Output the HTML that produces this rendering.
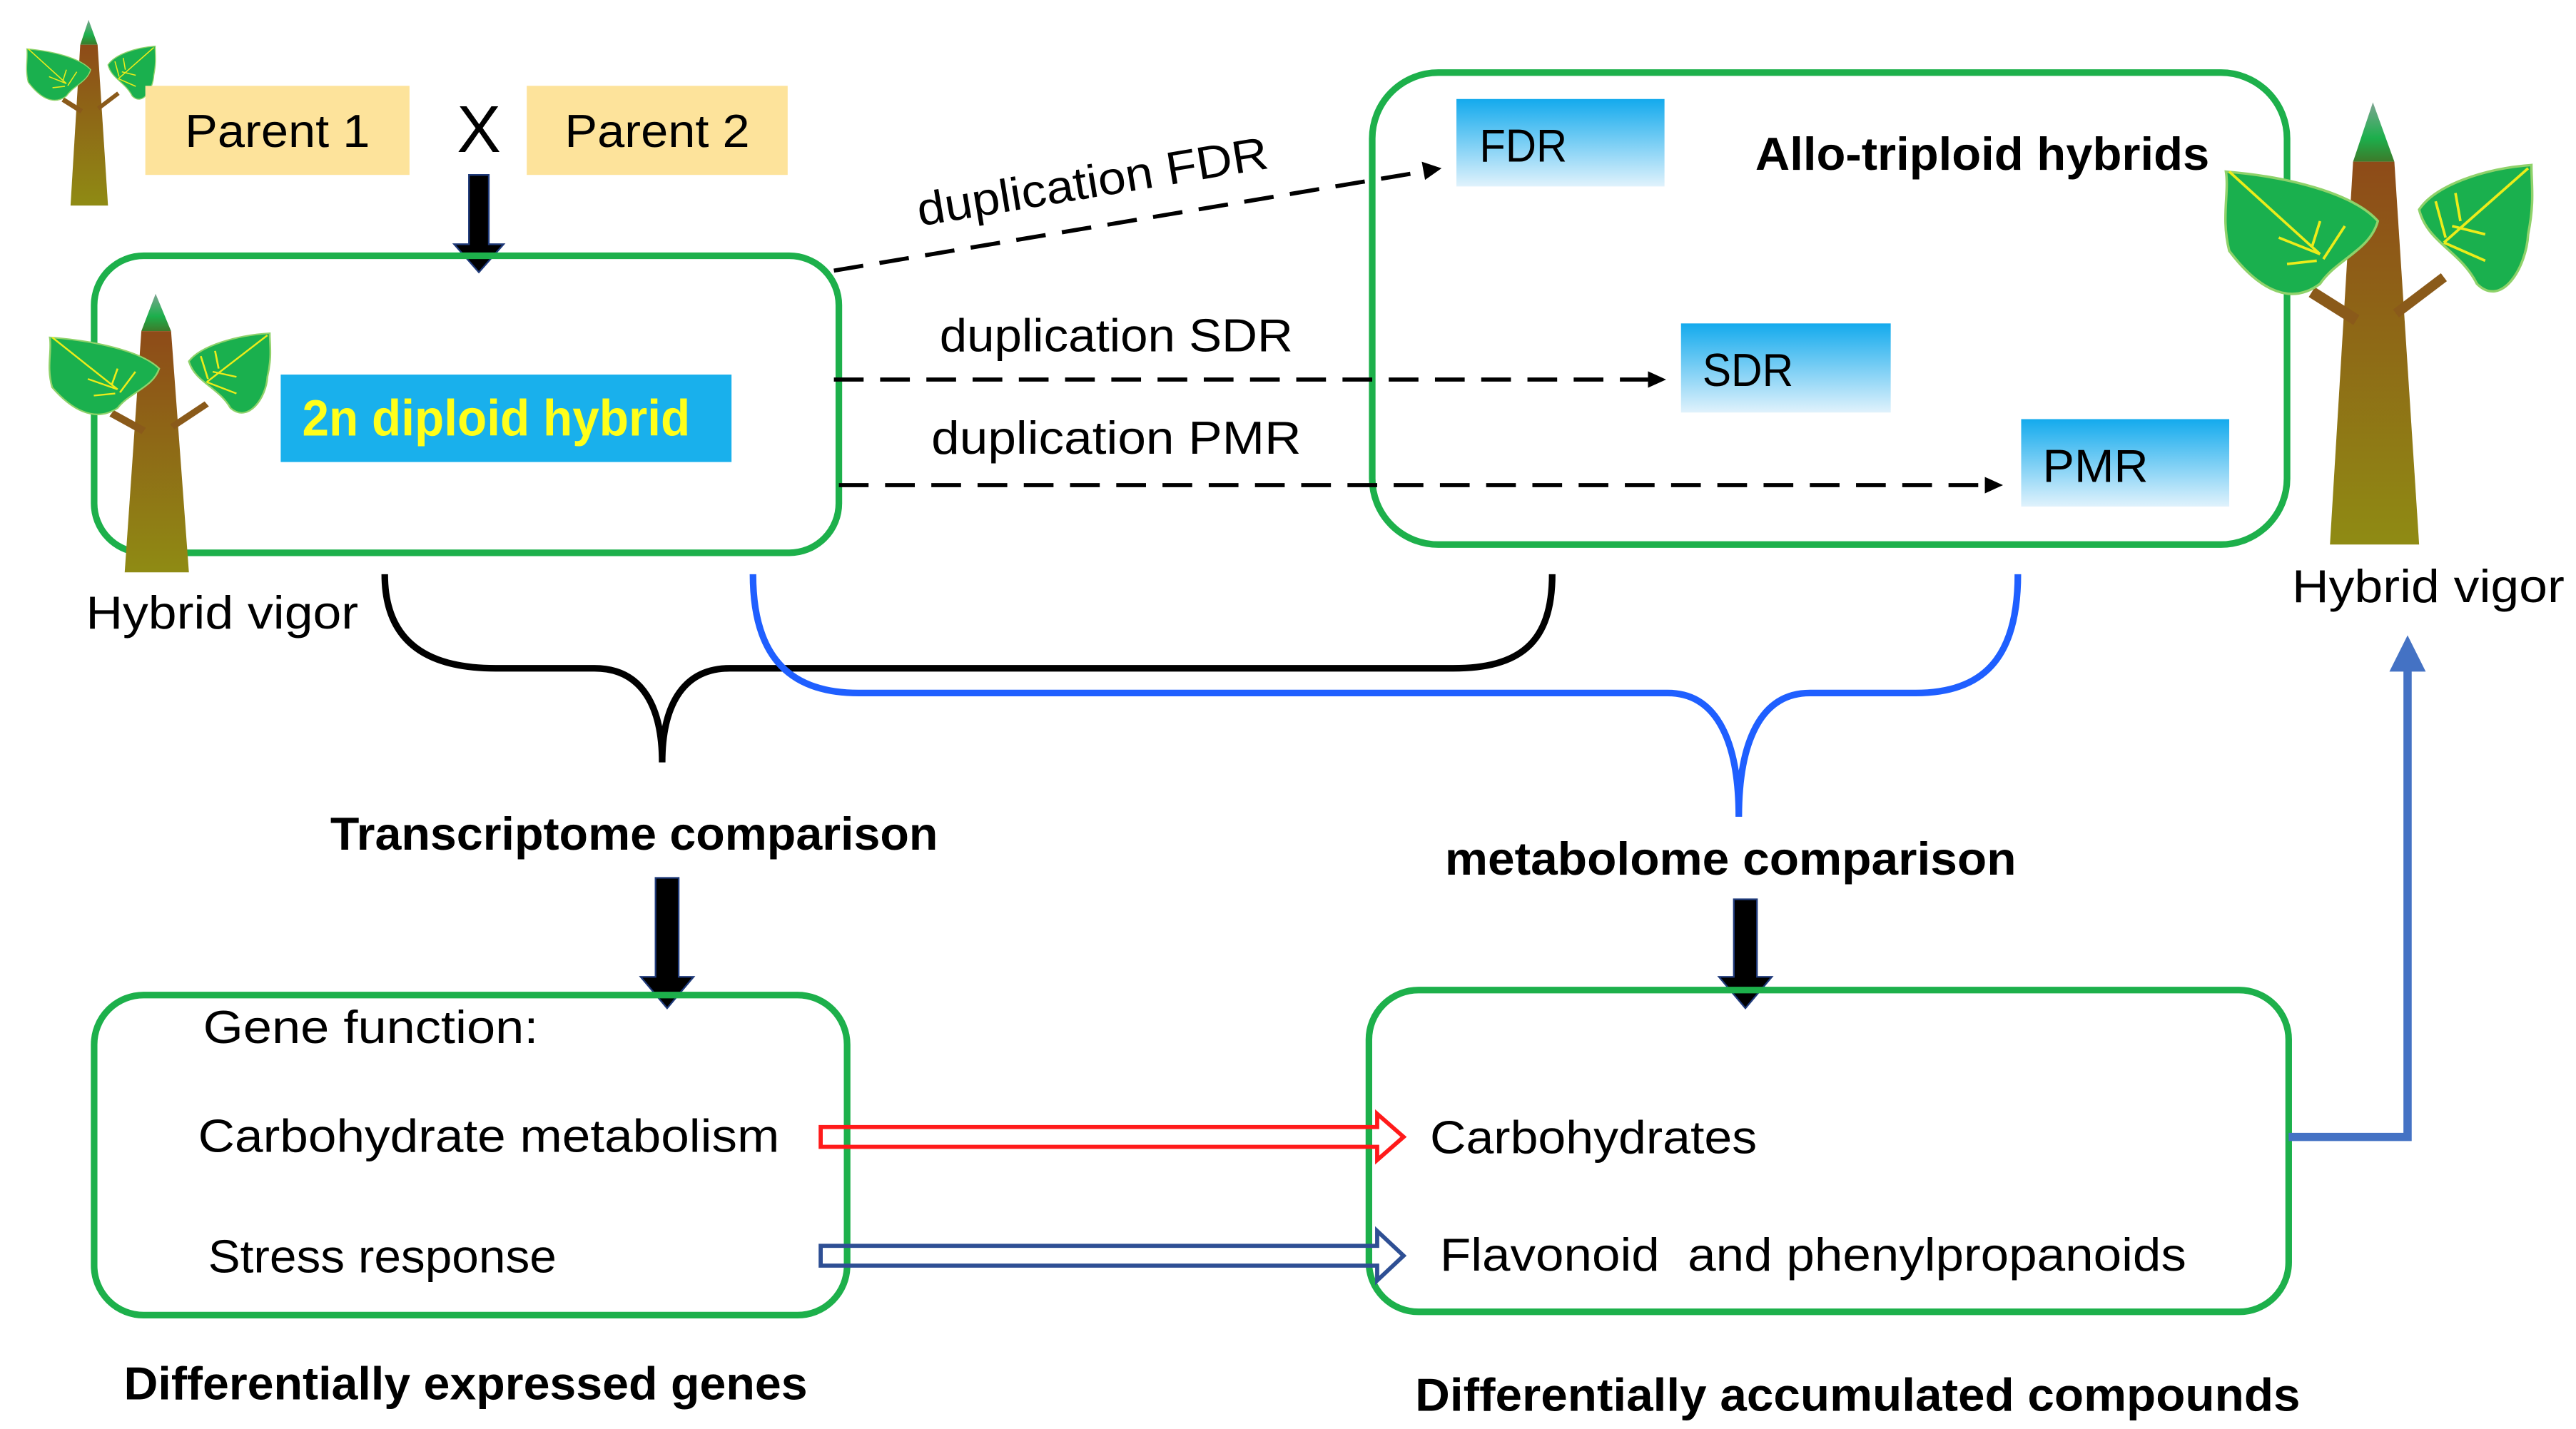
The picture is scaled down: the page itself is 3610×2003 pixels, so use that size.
<!DOCTYPE html>
<html><head><meta charset="utf-8"><style>html,body{margin:0;padding:0;background:#fff}svg{display:block}</style></head>
<body>
<svg width="3610" height="2003" viewBox="0 0 1560 866" preserveAspectRatio="none" xmlns="http://www.w3.org/2000/svg" font-family="'Liberation Sans', sans-serif">
<defs>
<linearGradient id="trunk" x1="0" y1="0" x2="0" y2="1"><stop offset="0" stop-color="#8e4b18"/><stop offset="1" stop-color="#8f8b14"/></linearGradient>
<linearGradient id="tip" x1="0" y1="0" x2="0" y2="1"><stop offset="0" stop-color="#7ea592"/><stop offset="0.6" stop-color="#1caf4c"/><stop offset="1" stop-color="#3d7a2a"/></linearGradient>
<linearGradient id="bl" x1="0" y1="0" x2="0" y2="1"><stop offset="0" stop-color="#13aaed"/><stop offset="1" stop-color="#e0f2fc"/></linearGradient>
<g id="tree">
<polygon points="80,36 105,36 92,0" fill="url(#tip)"/>
<polygon points="66,268 120,268 105,36 80,36" fill="url(#trunk)"/>
<line x1="82" y1="132" x2="55" y2="115" stroke="#8a5a1a" stroke-width="7"/>
<line x1="106" y1="128" x2="135" y2="106" stroke="#8a5a1a" stroke-width="6"/>
<path d="M3,42 C40,45 80,55 95,72 C90,90 70,95 60,110 C40,125 20,110 5,90 C0,70 5,55 3,42Z" fill="#1ab04e" stroke="#8fd26a" stroke-width="1.5"/>
<path d="M188,38 C160,40 130,50 120,65 C125,85 145,90 155,110 C170,125 185,100 186,80 C190,60 188,50 188,38Z" fill="#1ab04e" stroke="#8fd26a" stroke-width="1.5"/>
<path d="M5,42 L60,92 M35,82 L60,92 M40,98 L58,96 M55,88 L60,72 M62,95 L75,75" stroke="#ecec1a" stroke-width="1.6" fill="none"/>
<path d="M186,40 L135,85 M140,75 L160,80 M135,85 L160,96 M136,82 L130,60 M145,72 L142,55" stroke="#ecec1a" stroke-width="1.6" fill="none"/>
</g>
</defs>
<g font-size="28">
<use href="#tree" transform="translate(15,12) scale(0.42)"/>

<rect x="88" y="52" width="160" height="54" fill="#fde39b"/>
<text x="112" y="89" textLength="112" lengthAdjust="spacingAndGlyphs">Parent 1</text>
<text x="290" y="92" font-size="40" text-anchor="middle">X</text>
<rect x="319" y="52" width="158" height="54" fill="#fde39b"/>
<text x="342" y="89" textLength="112" lengthAdjust="spacingAndGlyphs">Parent 2</text>
<polygon points="284,106 296,106 296,148 305,148 290,165 275,148 284,148" fill="#000" stroke="#1f3a7a" stroke-width="1"/>

<rect x="57" y="155" width="451" height="180" rx="30" fill="none" stroke="#1db04b" stroke-width="4"/>
<use href="#tree" transform="translate(28,178) scale(0.72,0.63)"/>
<rect x="170" y="227" width="273" height="53" fill="#19b0ec"/>
<text x="183" y="264" font-size="31" font-weight="bold" fill="#ffff1a" textLength="235" lengthAdjust="spacingAndGlyphs">2n diploid hybrid</text>
<text x="52" y="381" textLength="165" lengthAdjust="spacingAndGlyphs">Hybrid vigor</text>

<rect x="831" y="44" width="554" height="286" rx="40" fill="none" stroke="#1db04b" stroke-width="4"/>
<rect x="882" y="60" width="126" height="53" fill="url(#bl)"/>
<text x="896" y="98" textLength="53" lengthAdjust="spacingAndGlyphs">FDR</text>
<text x="1063" y="103" font-weight="bold" textLength="275" lengthAdjust="spacingAndGlyphs">Allo-triploid hybrids</text>
<rect x="1018" y="196" width="127" height="54" fill="url(#bl)"/>
<text x="1031" y="234" textLength="55" lengthAdjust="spacingAndGlyphs">SDR</text>
<rect x="1224" y="254" width="126" height="53" fill="url(#bl)"/>
<text x="1237" y="292" textLength="64" lengthAdjust="spacingAndGlyphs">PMR</text>
<use href="#tree" transform="translate(1345,62)"/>
<text x="1388" y="365" textLength="165" lengthAdjust="spacingAndGlyphs">Hybrid vigor</text>

<g stroke="#000" stroke-width="2.5" stroke-dasharray="18,10" fill="none">
<line x1="505" y1="164" x2="862" y2="104"/>
<line x1="505" y1="230" x2="998" y2="230"/>
<line x1="508" y1="294" x2="1202" y2="294"/>
</g>
<polygon points="873,102 861,98 863,109" fill="#000"/>
<polygon points="1009,230 998,225 998,235" fill="#000"/>
<polygon points="1213,294 1202,289 1202,299" fill="#000"/>
<text transform="translate(557,137) rotate(-9.4)" textLength="215" lengthAdjust="spacingAndGlyphs">duplication FDR</text>
<text x="569" y="213" textLength="214" lengthAdjust="spacingAndGlyphs">duplication SDR</text>
<text x="564" y="275" textLength="224" lengthAdjust="spacingAndGlyphs">duplication PMR</text>

<path d="M233,348 C233,390 260,405 300,405 L360,405 C390,405 401,430 401,462 C401,430 412,405 442,405 L880,405 C920,405 940,390 940,348" fill="none" stroke="#000" stroke-width="4"/>
<path d="M456,348 C456,400 480,420 520,420 L1010,420 C1040,420 1053,450 1053,495 C1053,450 1066,420 1096,420 L1160,420 C1200,420 1222,400 1222,348" fill="none" stroke="#1f5fff" stroke-width="4"/>

<text x="200" y="515" font-weight="bold" textLength="368" lengthAdjust="spacingAndGlyphs">Transcriptome comparison</text>
<text x="875" y="530" font-weight="bold" textLength="346" lengthAdjust="spacingAndGlyphs">metabolome comparison</text>
<polygon points="397,532 411,532 411,592 420,592 404,611 388,592 397,592" fill="#000" stroke="#1f3a7a" stroke-width="1"/>
<polygon points="1050,545 1064,545 1064,592 1073,592 1057,611 1041,592 1050,592" fill="#000" stroke="#1f3a7a" stroke-width="1"/>

<rect x="57" y="603" width="456" height="194" rx="30" fill="none" stroke="#1db04b" stroke-width="4"/>
<rect x="829" y="600" width="557" height="195" rx="30" fill="none" stroke="#1db04b" stroke-width="4"/>
<text x="123" y="632" textLength="203" lengthAdjust="spacingAndGlyphs">Gene function:</text>
<text x="120" y="698" textLength="352" lengthAdjust="spacingAndGlyphs">Carbohydrate metabolism</text>
<text x="126" y="771" textLength="211" lengthAdjust="spacingAndGlyphs">Stress response</text>
<text x="866" y="699" textLength="198" lengthAdjust="spacingAndGlyphs">Carbohydrates</text>
<text x="872" y="770" textLength="452" lengthAdjust="spacingAndGlyphs" xml:space="preserve">Flavonoid  and phenylpropanoids</text>

<polygon points="497,683 834,683 834,675 850,689 834,703 834,695 497,695" fill="none" stroke="#ff1a1a" stroke-width="2.5"/>
<polygon points="497,755 834,755 834,746 850,761 834,776 834,767 497,767" fill="none" stroke="#2e4f94" stroke-width="2.5"/>

<polyline points="1386,689 1458,689 1458,405" fill="none" stroke="#4472c4" stroke-width="5"/>
<polygon points="1447,407 1469,407 1458,385" fill="#4472c4"/>

<text x="75" y="848" font-weight="bold" textLength="414" lengthAdjust="spacingAndGlyphs">Differentially expressed genes</text>
<text x="857" y="855" font-weight="bold" textLength="536" lengthAdjust="spacingAndGlyphs">Differentially accumulated compounds</text>
</g>
</svg>
</body></html>
